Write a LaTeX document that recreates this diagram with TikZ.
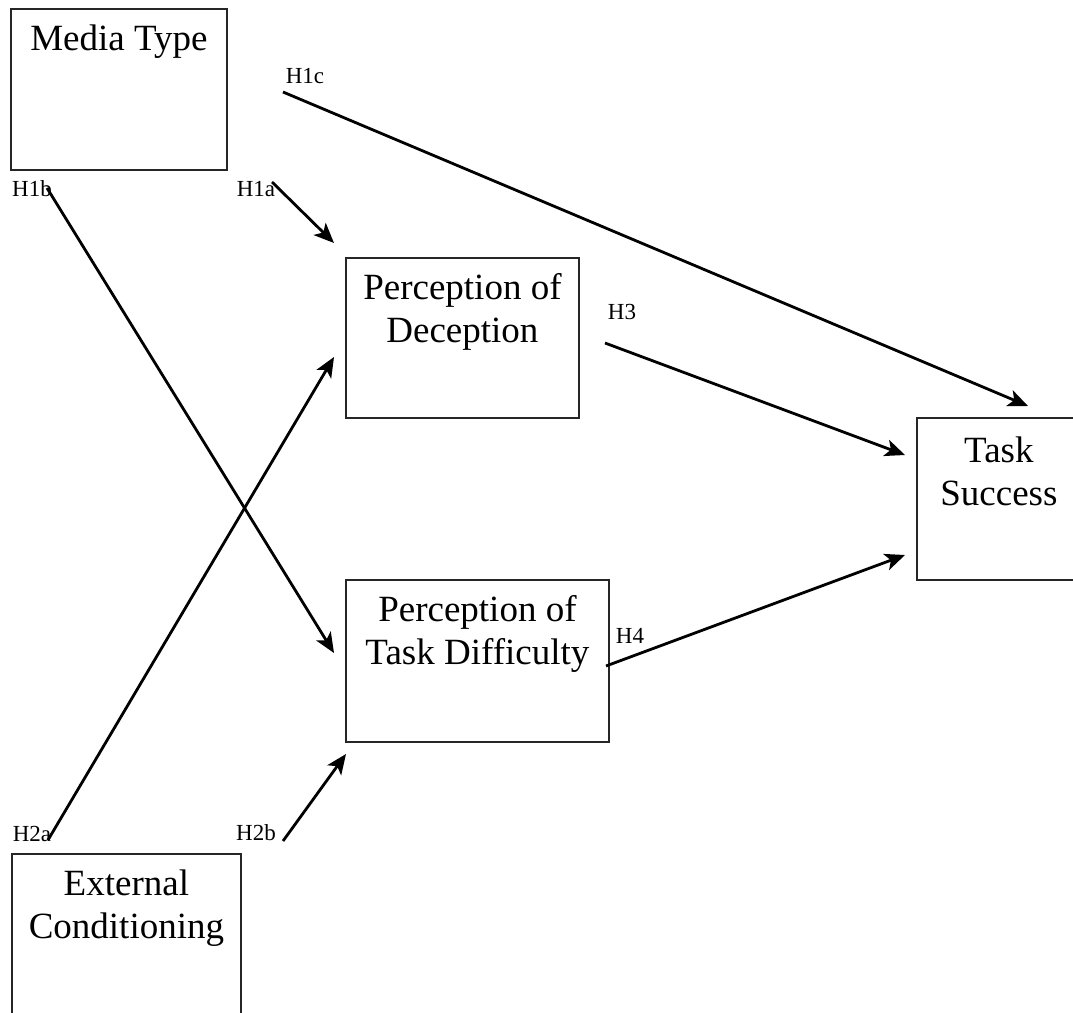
\documentclass[tikz,border=0pt]{standalone}
\usepackage{fontspec}
\setmainfont{Liberation Serif}
\usetikzlibrary{arrows.meta}

\begin{document}
\begin{tikzpicture}[x=1pt, y=-1pt,
        box/.style={draw=black!85, line width=1.8pt, anchor=north west, inner sep=0pt},
        boxtext/.style={anchor=north, inner sep=0pt, align=center, font=\fontsize{37}{43}\selectfont},
        hyp/.style={inner sep=0pt, font=\fontsize{23}{25}\selectfont},
        link/.style={-{Stealth[length=20pt, width=17pt, inset=5pt]}, line width=2.8pt}]
        \useasboundingbox (0,0) rectangle (1073,1012);
        \clip (0,0) rectangle (1073,1012);

        % boxes
        \node[box, minimum width=216pt, minimum height=161pt] (media) at (10,8) {};
        \node[box, minimum width=233pt, minimum height=160pt] (decep) at (345,257) {};
        \node[box, minimum width=263pt, minimum height=162pt] (diffic) at (345,579) {};
        \node[box, minimum width=164pt, minimum height=162pt] (success) at (916,417) {};
        \node[box, minimum width=229pt, minimum height=162pt] (extcond) at (11,853) {};

        \node[boxtext, yshift=-17pt] (mediatxt) at (media.north) {Media Type};
        \node[boxtext, yshift=-16pt] (deceptxt) at (decep.north) {Perception of\\Deception};
        \node[boxtext, yshift=-16pt] (diffictxt) at (diffic.north) {Perception of\\Task Difficulty};
        \node[boxtext, yshift=-20pt] (successtxt) at (success.north) {Task\\Success};
        \node[boxtext, yshift=-17pt] (extcondtxt) at (extcond.north) {External\\Conditioning};

        % hypothesis labels
        \node[hyp] (h1c) at (305,76) {H1c};
        \node[hyp] (h1b) at (32,189) {H1b};
        \node[hyp] (h1a) at (256,189) {H1a};
        \node[hyp] (h3) at (622,312) {H3};
        \node[hyp] (h4) at (630,636) {H4};
        \node[hyp] (h2a) at (32,834) {H2a};
        \node[hyp] (h2b) at (256,833) {H2b};

        % arrow ends
        \coordinate (h1c-s) at (283,92);
        \coordinate (h1c-e) at (1028,406);
        \coordinate (h1a-s) at (272,182);
        \coordinate (h1a-e) at (334,243);
        \coordinate (h1b-s) at (47,188);
        \coordinate (h1b-e) at (334,653);
        \coordinate (h2a-s) at (48,840);
        \coordinate (h2a-e) at (334,357);
        \coordinate (h2b-s) at (283,841);
        \coordinate (h2b-e) at (346,754);
        \coordinate (h3-s) at (605,343);
        \coordinate (h3-e) at (905,455);
        \coordinate (h4-s) at (606,666);
        \coordinate (h4-e) at (905,555);

        \draw[link] (h1c-s) -- (h1c-e);
        \draw[link] (h1a-s) -- (h1a-e);
        \draw[link] (h1b-s) -- (h1b-e);
        \draw[link] (h2a-s) -- (h2a-e);
        \draw[link] (h2b-s) -- (h2b-e);
        \draw[link] (h3-s) -- (h3-e);
        \draw[link] (h4-s) -- (h4-e);

    \end{tikzpicture}
\end{document}
